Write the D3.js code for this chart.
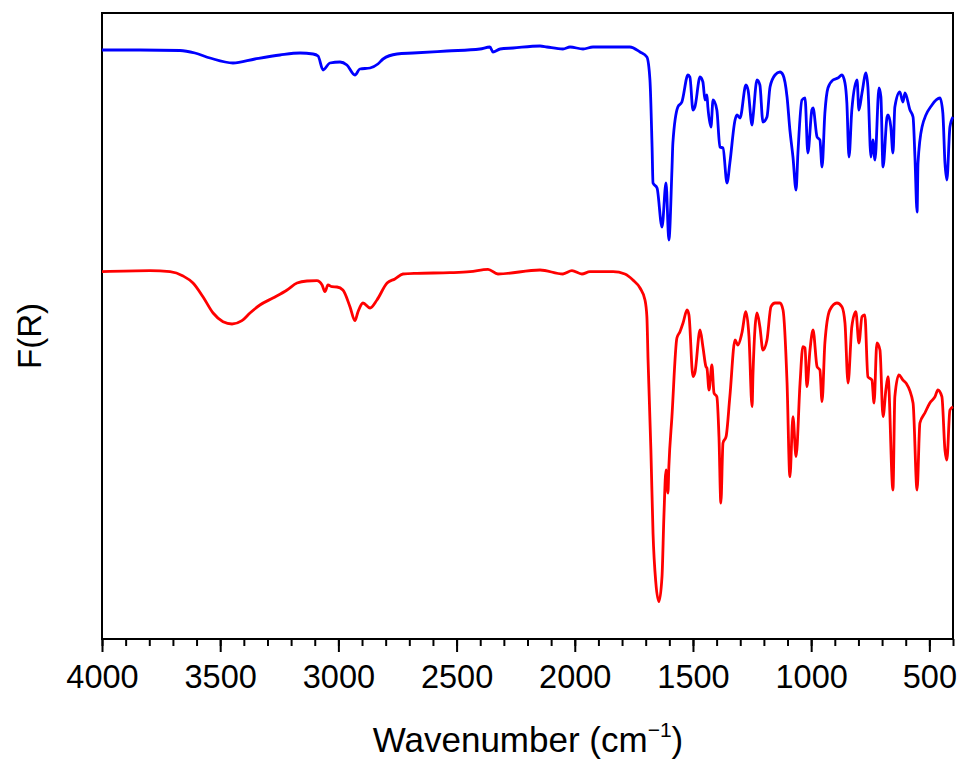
<!DOCTYPE html>
<html>
<head>
<meta charset="utf-8">
<script src="https://cdn.jsdelivr.net/npm/d3@7"></script>
<style>
  body { margin: 0; background: #fff; }
  svg text { font-family: "Liberation Sans", Arial, sans-serif; fill: #000; }
</style>
</head>
<body>
<div id="chartCont"></div>
<script>
// wavenumber (cm-1) and F(R) in arbitrary units
let blueWn = [4000,3839,3670,3607,3543,3446,3353,3247,3162,3107,3086,3065,3036,2993,2964,2930,2909,2866,2833,2811,2752,2684,2541,2401,2359,2346,2316,2261,2147,2118,2050,2020,1965,1923,1838,1767,1724,1695,1682,1673,1669,1652,1631,1614,1602,1589,1585,1564,1547,1521,1513,1500,1492,1470,1458,1449,1441,1437,1424,1415,1399,1386,1373,1356,1344,1322,1314,1301,1276,1267,1250,1246,1229,1217,1204,1187,1174,1153,1132,1119,1102,1090,1077,1064,1056,1039,1026,1014,997,992,975,963,954,942,929,908,887,870,857,849,840,828,806,798,785,768,760,747,739,730,713,705,696,679,675,663,654,646,625,612,603,582,569,561,552,548,531,489,455,443,434,426,413,400];
let blueFR = [589,589,588.5,586,581,576,580,584,586,585,583,569,576,577,574,564,570,571,575,580,585,586,588,590,592,587,590,591,593,592,590,592,590,592,592,592,587,582,559,492,456,451,412,456,399,469,496,532,537,564,562,529,532,562,557,539,544,532,512,539,529,492,491,456,476,519,524,521,554,549,514,522,559,554,517,522,552,564,567,564,542,509,482,449,486,539,541,486,529,531,502,499,472,526,551,559,561,564,556,536,482,529,559,529,546,566,552,482,499,479,551,542,472,522,524,512,486,532,547,537,546,529,522,482,427,476,512,534,541,526,476,459,512,522];

let redWn = [4000,3797,3712,3657,3615,3573,3530,3488,3450,3408,3374,3332,3277,3217,3175,3133,3091,3069,3057,3044,3027,3006,2981,2951,2930,2917,2896,2866,2837,2794,2761,2727,2668,2528,2443,2367,2325,2147,2050,2012,1970,1936,1838,1788,1754,1724,1703,1695,1690,1678,1669,1657,1644,1631,1623,1614,1606,1602,1589,1568,1555,1542,1525,1517,1500,1492,1470,1458,1445,1441,1432,1420,1411,1399,1390,1382,1373,1360,1344,1322,1310,1293,1276,1263,1250,1246,1229,1217,1204,1187,1170,1153,1132,1119,1102,1090,1077,1064,1047,1035,1026,1018,1005,992,975,963,954,942,921,891,870,857,844,828,811,798,785,773,760,743,734,722,709,696,684,675,654,646,629,612,599,569,552,540,519,498,476,464,447,434,426,413,400];
let redFR = [367.3,368.3,367.3,363,356,342.3,326,317.3,315,318.3,326,334,341,349,356,358,358.3,354,347.3,354,352.3,352,349,332.3,318.3,327.3,336,331,339,356,360,365,365.7,366.3,367.3,369.7,365,369,365,368.3,365,367.3,367.3,365,359,351,339,322.3,279,189,106,56,37.3,62.3,122.3,169,146,172.3,222.3,301,307.3,316,329,324,262.3,266,309,292.3,272.3,271,249,274,246,242.3,202.3,136,196,202.3,242.3,299,294,306,327.3,302.3,232.3,266,326,312.3,289,299,332.3,336,336,329,256,162.3,222.3,182.3,256,292.3,291,252.3,289,309,272.3,269,237.3,296,329,336,332.3,316,256,312.3,327.3,296,322.3,324,262.3,259,236,296,289,222.3,249,262.3,149,242.3,264,259,256,236,149,216,226,236,242.3,249,242.3,189,179,229,232.3];

let majorTicks = [4000, 3500, 3000, 2500, 2000, 1500, 1000, 500];
let minorTicks = d3.range(400, 4001, 100);

let width = 963,
  height = 764;
let margin = {left: 102, right: 10, top: 13, bottom: 125};

let svg = d3.select("#chartCont")
  .append("svg")
  .attr("width", width)
  .attr("height", height);

let x = d3.scaleLinear()
  .domain([4000, 400])
  .range([margin.left, width - margin.right]);

let y = d3.scaleLinear()
  .domain([0, 626])
  .range([height - margin.bottom, margin.top]);

// minor ticks, no labels
svg.append("g")
  .attr("transform", "translate(0," + (height - margin.bottom) + ")")
  .call(d3.axisBottom(x).tickValues(minorTicks).tickSize(7).tickFormat(""))
  .call(function(g) { g.select(".domain").remove(); })
  .selectAll("line")
  .attr("stroke", "#000")
  .attr("stroke-width", 2);

// major ticks with labels
let xAxis = svg.append("g")
  .attr("transform", "translate(0," + (height - margin.bottom) + ")")
  .call(d3.axisBottom(x).tickValues(majorTicks).tickSize(13).tickPadding(13).tickFormat(d3.format("d")));
xAxis.select(".domain").remove();
xAxis.selectAll("line").attr("stroke", "#000").attr("stroke-width", 2);
xAxis.selectAll("text")
  .style("font-size", "32.5px")
  .style("font-family", '"Liberation Sans", Arial, sans-serif');

// frame
svg.append("rect")
  .attr("x", x(4000))
  .attr("y", y(626))
  .attr("width", x(400) - x(4000))
  .attr("height", y(0) - y(626))
  .attr("fill", "none")
  .attr("stroke", "#000")
  .attr("stroke-width", 2);

let line = d3.line()
  .curve(d3.curveMonotoneX)
  .x(function(d) { return x(d[0]); })
  .y(function(d) { return y(d[1]); });

let blueData = d3.zip(blueWn, blueFR);
let redData = d3.zip(redWn, redFR);

svg.append("path")
  .datum(blueData)
  .attr("fill", "none")
  .attr("stroke", "#0000ff")
  .attr("stroke-width", 2.8)
  .attr("stroke-linejoin", "round")
  .attr("d", line);

svg.append("path")
  .datum(redData)
  .attr("fill", "none")
  .attr("stroke", "#ff0000")
  .attr("stroke-width", 2.8)
  .attr("stroke-linejoin", "round")
  .attr("d", line);

// axis titles
let xTitle = svg.append("text")
  .attr("x", 528)
  .attr("y", 752)
  .attr("text-anchor", "middle")
  .style("font-size", "35px");
xTitle.append("tspan").text("Wavenumber (cm");
xTitle.append("tspan")
  .attr("dy", -15)
  .style("font-size", "21px")
  .text("\u22121");
xTitle.append("tspan")
  .attr("dy", 15)
  .text(")");

svg.append("text")
  .attr("transform", "translate(41,336) rotate(-90)")
  .attr("text-anchor", "middle")
  .style("font-size", "33px")
  .text("F(R)");
</script>
</body>
</html>
